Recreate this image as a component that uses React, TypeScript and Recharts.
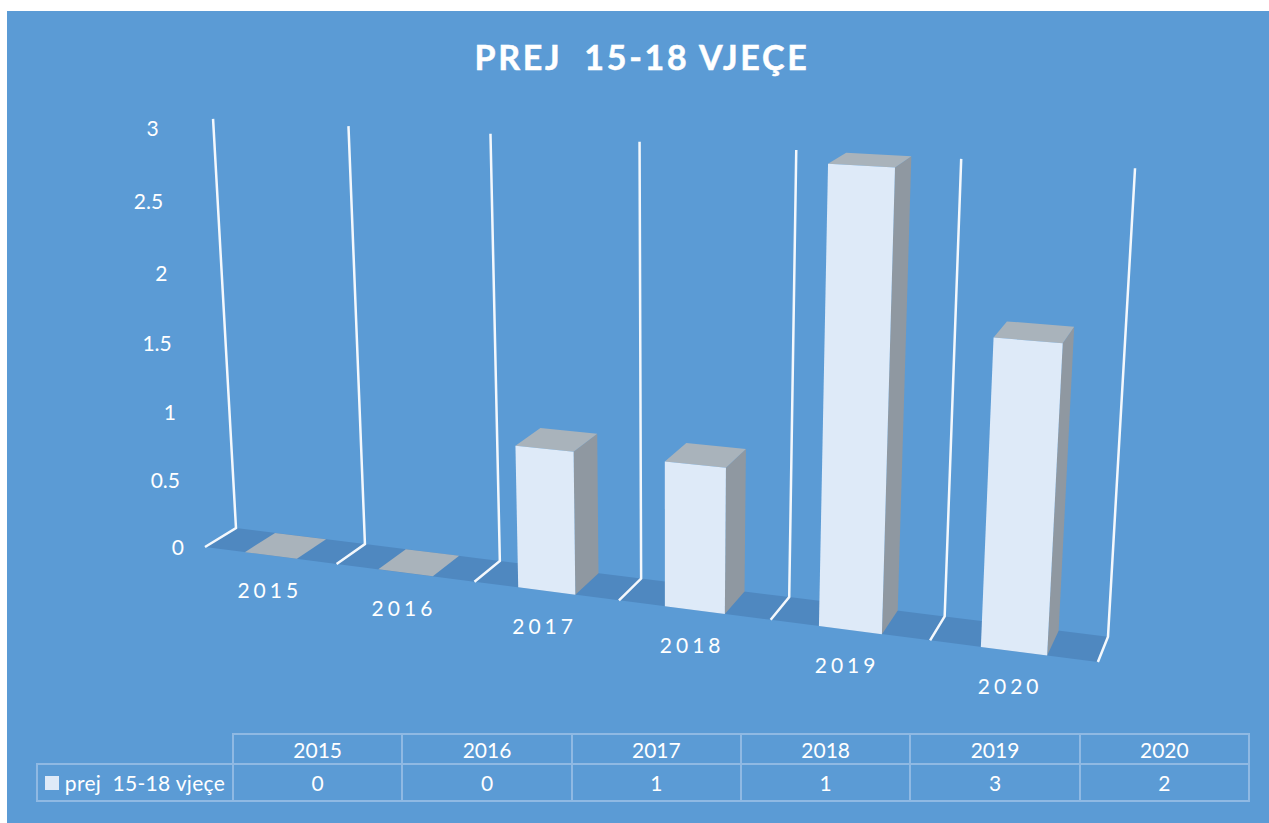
import React from 'react';
import { BarChart, Bar, XAxis, YAxis } from 'recharts';

const categories = ['2015', '2016', '2017', '2018', '2019', '2020'];
const seriesName = 'prej  15-18 vjeçe';
const seriesValues = [0, 0, 1, 1, 3, 2];
const valueTicks = [0, 0.5, 1, 1.5, 2, 2.5, 3];
const titleText = 'PREJ  15-18 VJEÇE';

const data = categories.map((year, i) => ({ year, value: seriesValues[i] }));

const W = 1269;
const H = 823;
const FONT = 'Lato, "Open Sans", sans-serif';
const PLOT = { left: 205, top: 119, width: 893, height: 428 };
const MAX_V = 3;
const SLOTS = categories.length;

const COLORS = {
  bg: '#5B9BD5',
  floor: '#4F88C0',
  front: '#DEEAF8',
  side: '#8F98A1',
  top: '#A9B3BB',
  line: '#F4F8FC',
  table: '#8FB9E3',
};

// Perspective camera: slot position t along the axis, value v, depth d (0 front, 1 back).
function project(t: number, v: number, d: number): [number, number] {
  const w = 1 - 0.0226 * t - 0.0172 * v + 0.0255 * d;
  const sx = (124 * t - 11.5 * v + 37 * d + 205) / w;
  const sy = (4.2 * t - 141.9 * v - 5.5 * d + 547) / w;
  return [sx, sy];
}
const xToT = (x: number) => ((x - PLOT.left) / PLOT.width) * SLOTS;
const hToV = (h: number) => (h / PLOT.height) * MAX_V;
const yToV = (y: number) => hToV(PLOT.top + PLOT.height - y);
const poly = (pts: [number, number][]) => pts.map((p) => p.join(',')).join(' ');

function WallAndFloor(props: any) {
  const { x, width } = props;
  const c = xToT(x + width / 2);
  const t0 = Math.floor(c);
  const t1 = t0 + 1;
  const wall = (t: number) => {
    const a = project(t, MAX_V, 1);
    const b = project(t, 0, 1);
    const f = project(t, 0, 0);
    return (
      <polyline
        points={poly([a, b, f])}
        fill="none"
        stroke={COLORS.line}
        strokeWidth={2.5}
      />
    );
  };
  return (
    <g>
      <polygon
        points={poly([project(t0, 0, 0), project(t0, 0, 1), project(t1, 0, 1), project(t1, 0, 0)])}
        fill={COLORS.floor}
      />
      {wall(t0)}
      {t1 === SLOTS ? wall(t1) : null}
    </g>
  );
}

function Box3D(props: any) {
  const { x, width, height } = props;
  const a = xToT(x) + 0.008;
  const b = xToT(x + width);
  const v = hToV(height);
  return (
    <g>
      <polygon
        points={poly([project(b, 0, 0), project(b, v, 0), project(b, v, 1), project(b, 0, 1)])}
        fill={COLORS.side}
      />
      <polygon
        points={poly([project(a, v, 0), project(a, v, 1), project(b, v, 1), project(b, v, 0)])}
        fill={COLORS.top}
      />
      <polygon
        points={poly([project(a, 0, 0), project(a, v, 0), project(b, v, 0), project(b, 0, 0)])}
        fill={COLORS.front}
      />
    </g>
  );
}

function ValueTick(props: any) {
  const { y, payload } = props;
  const [sx, sy] = project(0, yToV(y), 0);
  return (
    <text x={sx - 21} y={sy + 8} textAnchor="end" fill="#fff" fontFamily={FONT} fontSize={21}>
      {payload.value}
    </text>
  );
}

function CategoryTick(props: any) {
  const { x, payload } = props;
  const t = xToT(x);
  const [sx, sy] = project(t, 0, 0);
  return (
    <text x={sx - 0.5 * t} y={sy + 43} textAnchor="middle" fill="#fff" fontFamily={FONT} fontSize={21} letterSpacing={4}>
      {payload.value}
    </text>
  );
}

const TABLE = { left: 36, keyRight: 232, right: 1248, top: 733, mid: 763, bottom: 801 };
const colW = (TABLE.right - TABLE.keyRight) / categories.length;

function Cell({ left, top, width, height, children, spacing }: any) {
  return (
    <div
      style={{
        position: 'absolute',
        left,
        top,
        width,
        height,
        boxSizing: 'border-box',
        border: `2px solid ${COLORS.table}`,
        display: 'flex',
        alignItems: 'center',
        justifyContent: 'center',
        color: '#fff',
        fontFamily: FONT,
        fontSize: 21,
        letterSpacing: spacing,
        whiteSpace: 'pre',
      }}
    >
      {children}
    </div>
  );
}

function DataTable() {
  return (
    <>
      {categories.map((c, i) => (
        <Cell key={c} left={TABLE.keyRight + i * colW} top={TABLE.top} width={colW + 2} height={TABLE.mid - TABLE.top + 2}>
          {c}
        </Cell>
      ))}
      <Cell left={TABLE.left} top={TABLE.mid} width={TABLE.keyRight - TABLE.left + 2} height={TABLE.bottom - TABLE.mid + 1} spacing={0.3}>
        <span style={{ width: 14, height: 14, background: COLORS.front, marginRight: 6, flex: 'none' }} />
        <span>{seriesName}</span>
      </Cell>
      {seriesValues.map((v, i) => (
        <Cell key={categories[i]} left={TABLE.keyRight + i * colW} top={TABLE.mid} width={colW + 2} height={TABLE.bottom - TABLE.mid + 1}>
          {v}
        </Cell>
      ))}
    </>
  );
}

export default function App() {
  return (
    <div style={{ position: 'absolute', left: 0, top: 0, width: W, height: H, overflow: 'hidden', background: '#fff' }}>
      <div style={{ position: 'absolute', left: 7, top: 11, right: 0, bottom: 0, background: COLORS.bg }} />
      <div
        style={{
          position: 'absolute',
          left: 8,
          width: W - 1,
          top: 32,
          textAlign: 'center',
          color: '#fff',
          fontFamily: FONT,
          fontWeight: 700,
          fontSize: 34,
          letterSpacing: 2.7,
          whiteSpace: 'pre',
          lineHeight: '50px',
          WebkitTextStroke: '0.5px #fff',
        }}
      >
        {titleText}
      </div>
      <div style={{ position: 'absolute', left: 0, top: 0 }}>
        <BarChart
          width={W}
          height={H}
          data={data}
          barCategoryGap="30%"
          margin={{ top: PLOT.top, right: W - PLOT.left - PLOT.width, bottom: H - PLOT.top - PLOT.height - 30, left: PLOT.left - 60 }}
        >
          <XAxis dataKey="year" height={30} axisLine={false} tickLine={false} tick={<CategoryTick />} interval={0} />
          <YAxis width={60} domain={[0, MAX_V]} ticks={valueTicks} axisLine={false} tickLine={false} tick={<ValueTick />} interval={0} />
          <Bar dataKey="value" name={seriesName} isAnimationActive={false} background={(p: any) => <WallAndFloor {...p} />} shape={(p: any) => <Box3D {...p} />} />
        </BarChart>
      </div>
      <DataTable />
    </div>
  );
}
